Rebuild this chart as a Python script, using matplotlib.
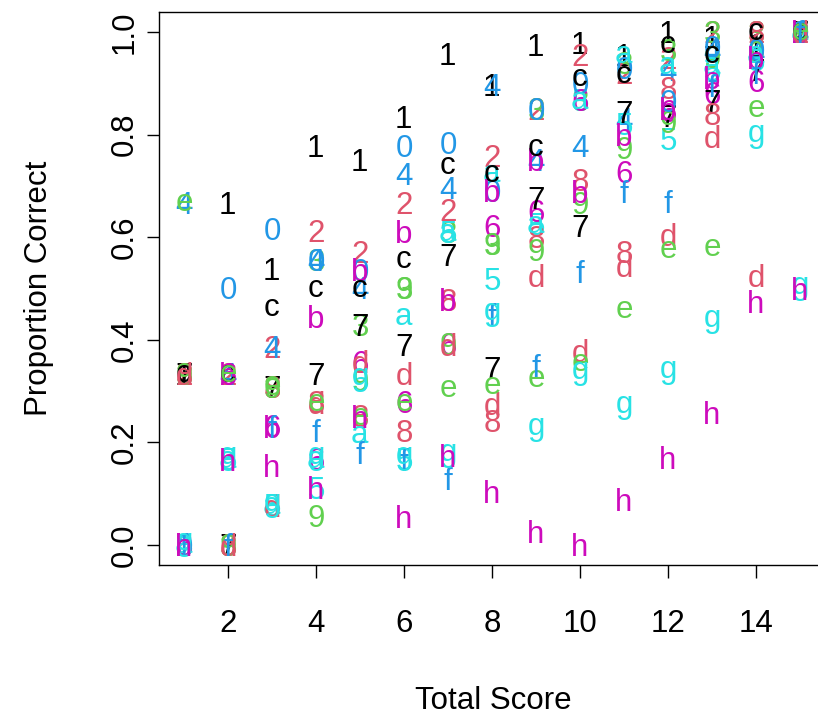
import matplotlib
matplotlib.use("Agg")
import matplotlib.pyplot as plt
from matplotlib.font_manager import FontProperties
from matplotlib.textpath import TextPath
from matplotlib.transforms import ScaledTranslation

# total score on the x axis
scores = [1, 2, 3, 4, 5, 6, 7, 8, 9, 10, 11, 12, 13, 14, 15]

# proportion correct per item (one list per item, one value per total score)
p_1 = [0.333, 0.667, 0.538, 0.778, 0.750, 0.833, 0.957, 0.897, 0.975, 0.978, 0.955, 1.000, 0.990, 0.975, 1.000]
p_2 = [0.333, 0.333, 0.385, 0.611, 0.571, 0.667, 0.652, 0.759, 0.850, 0.956, 0.920, 0.950, 1.000, 1.000, 1.000]
p_3 = [0.333, 0.000, 0.308, 0.556, 0.429, 0.500, 0.609, 0.586, 0.850, 0.867, 0.940, 0.965, 1.000, 1.000, 1.000]
p_4 = [0.667, 0.333, 0.385, 0.556, 0.500, 0.722, 0.696, 0.897, 0.750, 0.778, 0.830, 0.925, 0.965, 0.960, 1.000]
p_5 = [0.000, 0.167, 0.077, 0.111, 0.321, 0.167, 0.609, 0.517, 0.625, 0.867, 0.820, 0.790, 0.925, 0.945, 1.000]
p_6 = [0.000, 0.333, 0.231, 0.167, 0.357, 0.278, 0.391, 0.621, 0.650, 0.867, 0.727, 0.845, 0.880, 0.905, 1.000]
p_7 = [0.333, 0.000, 0.308, 0.333, 0.429, 0.389, 0.565, 0.345, 0.675, 0.622, 0.844, 0.835, 0.865, 0.925, 1.000]
p_8 = [0.333, 0.000, 0.308, 0.278, 0.250, 0.222, 0.478, 0.241, 0.600, 0.711, 0.570, 0.890, 0.840, 1.000, 1.000]
p_9 = [0.333, 0.000, 0.308, 0.056, 0.321, 0.500, 0.391, 0.586, 0.575, 0.667, 0.774, 0.825, 0.950, 0.960, 1.000]
p_0 = [0.000, 0.500, 0.615, 0.556, 0.536, 0.778, 0.783, 0.690, 0.850, 0.900, 0.930, 0.865, 0.970, 0.965, 1.000]
p_a = [0.000, 0.167, 0.077, 0.167, 0.214, 0.444, 0.609, 0.724, 0.625, 0.867, 0.955, 0.935, 0.935, 0.955, 1.000]
p_b = [0.000, 0.333, 0.231, 0.444, 0.536, 0.611, 0.478, 0.690, 0.750, 0.689, 0.800, 0.850, 0.910, 0.950, 1.000]
p_c = [0.333, 0.333, 0.462, 0.500, 0.500, 0.556, 0.739, 0.724, 0.775, 0.911, 0.916, 0.975, 0.955, 1.000, 1.000]
p_d = [0.333, 0.000, 0.077, 0.278, 0.357, 0.333, 0.391, 0.276, 0.525, 0.378, 0.545, 0.605, 0.795, 0.524, 1.000]
p_e = [0.667, 0.333, 0.308, 0.278, 0.250, 0.278, 0.304, 0.310, 0.325, 0.356, 0.458, 0.575, 0.579, 0.850, 1.000]
p_f = [0.000, 0.000, 0.231, 0.222, 0.179, 0.167, 0.130, 0.448, 0.350, 0.533, 0.688, 0.670, 0.895, 0.920, 1.000]
p_g = [0.000, 0.167, 0.077, 0.167, 0.321, 0.167, 0.174, 0.448, 0.225, 0.333, 0.267, 0.335, 0.435, 0.795, 0.500]
p_h = [0.000, 0.167, 0.154, 0.111, 0.250, 0.056, 0.174, 0.103, 0.025, 0.000, 0.088, 0.170, 0.257, 0.474, 0.500]

symbols = ["1", "2", "3", "4", "5", "6", "7", "8", "9", "0", "a", "b", "c", "d", "e", "f", "g", "h"]
items = [p_1, p_2, p_3, p_4, p_5, p_6, p_7, p_8, p_9, p_0,
         p_a, p_b, p_c, p_d, p_e, p_f, p_g, p_h]
palette = ["#000000", "#DF536B", "#61D04F", "#2297E6", "#28E2E5", "#CD0BBC"]

FS = 22.5
font = FontProperties(family="Liberation Sans", size=FS)

fig = plt.figure(figsize=(8.18, 7.15), dpi=100)
ax = fig.add_axes([0.1949, 0.2091, 0.8132, 0.7748])

# draw each symbol centred on its glyph, like R's pch characters
for i, (sym, vals) in enumerate(zip(symbols, items)):
    col = palette[i % len(palette)]
    ext = TextPath((0, 0), sym, size=FS, prop=font).get_extents()
    dx = -(ext.x0 + ext.x1) / 2 / 72
    dy = -(ext.y0 + ext.y1) / 2 / 72
    tr = ax.transData + ScaledTranslation(dx, dy, fig.dpi_scale_trans)
    for x, y in zip(scores, vals):
        ax.text(x, y, sym, color=col, fontproperties=font, ha="left",
                va="baseline", transform=tr, zorder=2 + i)

ax.set_xlim(0.44, 15.56)
ax.set_ylim(-0.04, 1.04)
ax.set_xticks([2, 4, 6, 8, 10, 12, 14])
ax.set_yticks([0.0, 0.2, 0.4, 0.6, 0.8, 1.0])
ax.set_yticklabels(["0.0", "0.2", "0.4", "0.6", "0.8", "1.0"], rotation=90, va="center")
ax.tick_params(axis="both", length=9, width=1, labelsize=FS)
ax.tick_params(axis="x", pad=22)
ax.tick_params(axis="y", pad=5)
for lab in ax.get_xticklabels() + ax.get_yticklabels():
    lab.set_fontfamily("Liberation Sans")
for sp in ax.spines.values():
    sp.set_linewidth(1)

fig.text(0.603, 0.02, "Total Score", fontproperties=font, ha="center", va="center")
fig.text(0.048, 0.597, "Proportion Correct", fontproperties=font, ha="center",
         va="center", rotation=90)

fig.savefig("out.png", dpi=100)
